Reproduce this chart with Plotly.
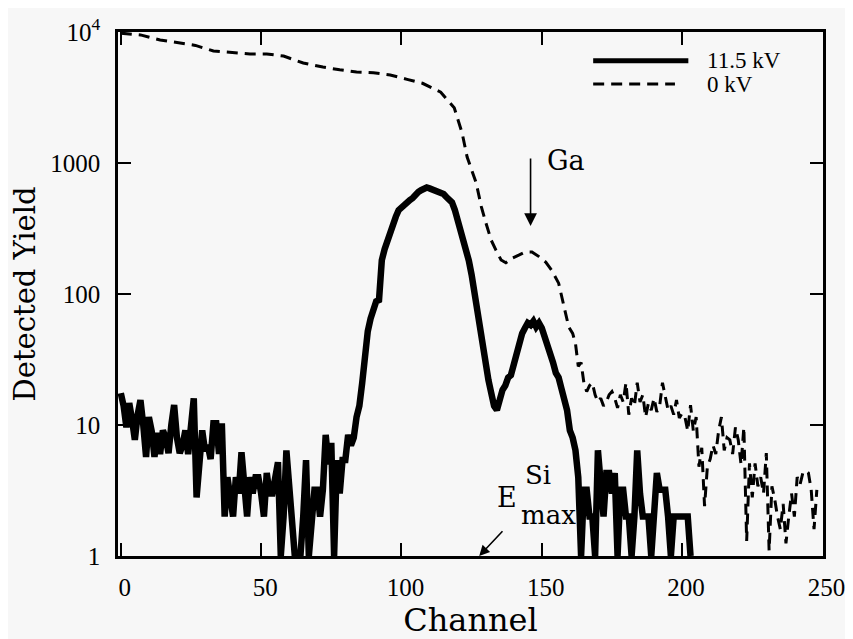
import plotly.graph_objects as go
import math

# ---- data ----
ch_11kv = list(range(0, 204))
y_11kv = [
    17.5, 14, 9.6, 14.7, 11, 7.7, 12, 15.5, 10, 5.7,
    11.5, 9, 5.7, 8.7, 6, 9.1, 8, 6.1, 10, 14.2,
    8, 6.1, 7, 9.1, 6, 10, 16, 2.8, 5, 9.1,
    6.4, 7, 5.5, 10.3, 10.3, 6, 10.3, 2, 4, 3,
    2, 4, 3, 6.2, 4, 2, 4, 3, 4, 4,
    3, 2, 4.3, 3, 3, 4, 5.2, 1, 2, 6.4,
    3, 2, 1, 1, 1, 2, 5.4, 1, 2, 3.2,
    3.2, 2, 3.2, 8.4, 5, 7.3, 1, 5.4, 3, 5.4,
    5.4, 8.4, 7, 8, 11.5, 14, 20.9, 37, 52, 65,
    78, 88, 90, 181, 220, 260, 293, 340, 390, 437,
    460, 480, 500, 522, 540, 580, 600, 620, 640, 650,
    640, 630, 620, 600, 590, 580, 550, 530, 500, 440,
    370, 310, 260, 210, 180, 140, 100, 70, 50, 36,
    28, 22, 17.5, 14, 13, 16, 18.5, 20, 23, 24,
    29, 33, 40, 50, 55, 60, 58, 62, 56, 60,
    55, 48, 42, 34, 30, 25, 23, 19, 16, 13,
    9.1, 8, 6.4, 4, 1, 3.2, 3.2, 2, 2, 1,
    6.4, 4, 2, 4.3, 4.3, 3, 4.3, 1, 3.2, 3.2,
    2, 2, 1, 2, 6.4, 3, 2, 2, 2, 1,
    2, 4.3, 3.2, 3.2, 3.2, 2, 1, 2, 2, 2,
    2, 2, 2, 1,
]

ch_0kv = [0, 7, 14, 21, 26.6, 33, 40, 46, 52, 58, 65, 72, 78, 84, 90, 96, 102,
          107.5, 114, 118.8, 121.6, 123.4, 126.6, 128.5, 130.1, 132, 133.7,
          135.5, 137.2, 139.5, 141.8, 144, 146.5, 149, 151.4, 153.5, 156, 158,
          159.6, 161, 162, 163, 164] + list(range(165, 249))
y_0kv = [9800, 9500, 8700, 8300, 7900, 7160, 6920, 6800, 6800, 6550, 5800, 5400,
         5150, 4950, 4880, 4700, 4350, 4060, 3470, 2640, 1700, 1110, 707, 460,
         348, 257, 215, 182, 173, 188, 198, 209, 209, 193, 175, 152, 121, 80,
         56, 50, 42, 28, 30,
         21, 18, 20, 21, 17, 15, 16, 14, 15, 17,
         18, 16, 13.5, 17, 15, 21, 12, 16, 14, 21,
         15, 17, 11.5, 14.7, 13, 16, 12.6, 14, 21, 16,
         13, 14, 12, 15.5, 11.3, 12.3, 11.5, 9, 14.2, 9,
         11.5, 4.8, 6.7, 2.4, 4.8, 5.5, 7, 6, 9, 11.5,
         6.4, 8, 7.7, 6, 9.6, 7.7, 5, 9.6, 1.3, 5.1,
         2.8, 5.1, 3.4, 4, 3, 6.1, 1.1, 3.4, 2.7, 2,
         1.6, 2.5, 1.25, 2, 3, 2, 4, 3.5, 4.3, 4.5,
         4.3, 3.2, 1.6, 3.2]

x_ticks = [0, 50, 100, 150, 200, 250]
y_ticks = [1, 10, 100, 1000, 10000]
y_ticktext = ["1", "10", "100", "1000", "10<sup>4</sup>"]
series_names = ["11.5 kV", "0 kV"]

BG = "#f7f7f7"
SERIF = "DejaVu Serif"
NUMF = "Liberation Serif"

fig = go.Figure()
fig.add_trace(go.Scatter(x=ch_11kv, y=y_11kv, mode="lines", name=series_names[0],
                         line=dict(color="black", width=6.5), showlegend=False))
fig.add_trace(go.Scatter(x=ch_0kv, y=y_0kv, mode="lines", name=series_names[1],
                         line=dict(color="black", width=3, dash="11px,7px"),
                         showlegend=False))

# custom legend (paper coordinates)
fig.add_shape(type="line", xref="paper", yref="paper", x0=0.674, x1=0.809,
              y0=0.945, y1=0.945, line=dict(color="black", width=5))
fig.add_shape(type="line", xref="paper", yref="paper", x0=0.674, x1=0.790,
              y0=0.901, y1=0.901, line=dict(color="black", width=3, dash="11px,7px"))
fig.add_annotation(xref="paper", yref="paper", x=0.833, y=0.945, text=series_names[0],
                   showarrow=False, xanchor="left", yanchor="middle",
                   font=dict(family=NUMF, size=23, color="black"))
fig.add_annotation(xref="paper", yref="paper", x=0.833, y=0.899, text=series_names[1],
                   showarrow=False, xanchor="left", yanchor="middle",
                   font=dict(family=NUMF, size=23, color="black"))

# Ga arrow
fig.add_annotation(x=146, y=math.log10(330), ax=146, ay=math.log10(1110),
                   axref="x", ayref="y", xref="x", yref="y", text="",
                   showarrow=True, arrowhead=2, arrowsize=1.6, arrowwidth=1.6,
                   arrowcolor="black")
fig.add_annotation(x=151, y=math.log10(1050), text="Ga", showarrow=False,
                   xanchor="left", yanchor="middle",
                   font=dict(family=SERIF, size=27, color="black"))

# E_max^Si
fig.add_annotation(x=127.7, y=0.0, ax=136.5, ay=0.2, axref="x", ayref="y",
                   xref="x", yref="y", text="", showarrow=True, arrowhead=2,
                   arrowsize=1.3, arrowwidth=1.6, arrowcolor="black")
fig.add_annotation(x=137.5, y=0.445, text="E", showarrow=False, xanchor="center",
                   yanchor="middle", font=dict(family=SERIF, size=27, color="black"))
fig.add_annotation(x=148.5, y=0.62, text="Si", showarrow=False, xanchor="center",
                   yanchor="middle", font=dict(family=SERIF, size=26, color="black"))
fig.add_annotation(x=152.5, y=0.31, text="max", showarrow=False, xanchor="center",
                   yanchor="middle", font=dict(family=SERIF, size=26, color="black"))

axis_common = dict(showline=True, linecolor="black", linewidth=2.5, mirror="allticks",
                   ticks="inside", ticklen=13, tickwidth=2, tickcolor="black",
                   showgrid=False, zeroline=False)

fig.update_xaxes(range=[-1, 250.2], tickvals=x_ticks,
                 ticktext=[str(v) for v in x_ticks],
                 ticklabelstandoff=7, ticklabelshift=4, ticklabeloverflow="allow",
                 tickfont=dict(family=NUMF, size=25, color="black"),
                 title=dict(text="Channel", font=dict(family=SERIF, size=32, color="black"),
                            standoff=7),
                 **axis_common)
fig.update_yaxes(type="log", range=[0, 4], tickvals=y_ticks, ticktext=y_ticktext,
                 ticklabelstandoff=10,
                 tickfont=dict(family=NUMF, size=25, color="black"),
                 title=dict(text="Detected Yield", font=dict(family=SERIF, size=29, color="black"),
                            standoff=12),
                 **axis_common)

fig.update_layout(width=845, height=639, paper_bgcolor=BG, plot_bgcolor=BG,
                  margin=dict(l=110, r=30, t=24, b=91, autoexpand=False),
                  showlegend=False)

fig.write_html("out.html")
